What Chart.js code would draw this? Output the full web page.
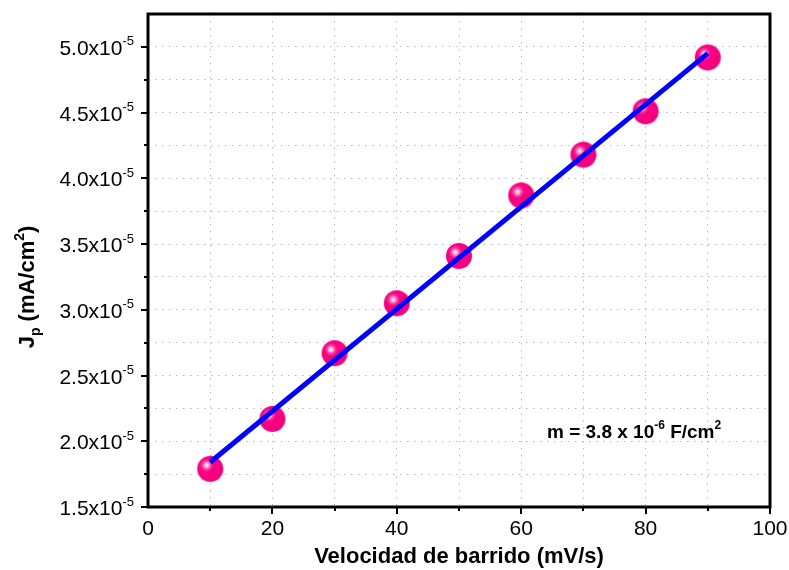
<!DOCTYPE html>
<html>
<head>
<meta charset="utf-8">
<script src="https://cdn.jsdelivr.net/npm/chart.js@4.4.1/dist/chart.umd.min.js"></script>
<style>
  html, body { margin: 0; padding: 0; background: #fff; }
  #wrap { width: 789px; height: 570px; position: relative; }
</style>
</head>
<body>
<div id="wrap"><canvas id="jp-chart"></canvas></div>
<script>
// scan rate (mV/s) and peak current density (mA/cm2)
const velocity = [10, 20, 30, 40, 50, 60, 70, 80, 90];
const jpValues = [1.79e-5, 2.17e-5, 2.67e-5, 3.05e-5, 3.41e-5, 3.87e-5, 4.18e-5, 4.51e-5, 4.92e-5];

// linear fit drawn through the points
const fitX = [10, 90];
const fitY = [1.84e-5, 4.95e-5];

const yLabelValues = [1.5, 2.0, 2.5, 3.0, 3.5, 4.0, 4.5, 5.0];
const xLabelValues = [0, 20, 40, 60, 80, 100];

const FONT = "'Liberation Sans', Arial, Helvetica, sans-serif";

// shaded sphere used as point marker
function makeSphere(r) {
    const c = document.createElement('canvas');
    c.width = c.height = r * 2 + 2;
    const g = c.getContext('2d');
    const cx = r + 1, cy = r + 1;
    const hx = cx - r * 0.28, hy = cy - r * 0.28;
    const grad = g.createRadialGradient(hx, hy, 0, hx, hy, r * 1.3);
    grad.addColorStop(0, '#ffffff');
    grad.addColorStop(0.08, '#ffd0e8');
    grad.addColorStop(0.25, '#ff3d9f');
    grad.addColorStop(0.4, '#fa0083');
    grad.addColorStop(1, '#f3007c');
    g.fillStyle = grad;
    g.beginPath();
    g.arc(cx, cy, r, 0, Math.PI * 2);
    g.fill();
    return c;
}

// text with superscripts / subscripts: parts = [[text, 'n'|'sup'|'sub'], ...]
function richWidth(ctx, parts, size, weight) {
    let w = 0;
    parts.forEach(([t, k]) => {
        ctx.font = `${weight} ${k === 'n' ? size : Math.round(size * 0.62)}px ${FONT}`;
        w += ctx.measureText(t).width;
    });
    return w;
}

function drawRich(ctx, parts, x, y, size, weight) {
    let cx = x;
    parts.forEach(([t, k]) => {
        const s = k === 'n' ? size : Math.round(size * 0.62);
        ctx.font = `${weight} ${s}px ${FONT}`;
        let dy = 0;
        if (k === 'sup') dy = -size * 0.45;
        if (k === 'sub') dy = size * 0.28;
        ctx.fillText(t, cx, y + dy);
        cx += ctx.measureText(t).width;
    });
}

const framePlugin = {
    id: 'frame',
    afterDraw(chart) {
        const { ctx, chartArea: a, scales: { x, y } } = chart;
        ctx.save();
        ctx.strokeStyle = '#000';

        // tick marks, outward on left and bottom
        ctx.lineWidth = 2;
        ctx.beginPath();
        for (let v = 10; v <= 100; v += 10) {
            const px = Math.round(x.getPixelForValue(v));
            const len = v % 20 === 0 ? 7 : 4;
            ctx.moveTo(px, a.bottom);
            ctx.lineTo(px, a.bottom + len);
        }
        for (let i = 0; i < 15; i++) {
            const v = 1.5e-5 + i * 0.25e-5;
            const py = Math.round(y.getPixelForValue(v));
            const len = i % 2 === 0 ? 7 : 4;
            ctx.moveTo(a.left, py);
            ctx.lineTo(a.left - len, py);
        }
        ctx.stroke();

        // box
        ctx.lineWidth = 3;
        ctx.strokeRect(a.left, a.top, a.right - a.left, a.bottom - a.top);

        // y tick labels a.bx10^-5
        ctx.fillStyle = '#000';
        ctx.textBaseline = 'alphabetic';
        yLabelValues.forEach(v => {
            const parts = [[v.toFixed(1) + 'x10', 'n'], ['-5', 'sup']];
            const w = richWidth(ctx, parts, 21, 'normal');
            const py = y.getPixelForValue(v * 1e-5);
            drawRich(ctx, parts, 134 - w, py + 8, 21, 'normal');
        });

        // y axis title
        ctx.save();
        ctx.translate(34, 287);
        ctx.rotate(-Math.PI / 2);
        const tParts = [['J', 'n'], ['p', 'sub'], [' (mA/cm', 'n'], ['2', 'sup'], [')', 'n']];
        const tw = richWidth(ctx, tParts, 22, 'bold');
        drawRich(ctx, tParts, -tw / 2, 0, 22, 'bold');
        ctx.restore();

        // slope annotation
        const mParts = [['m = 3.8 x 10', 'n'], ['-6', 'sup'], [' F/cm', 'n'], ['2', 'sup']];
        drawRich(ctx, mParts, 547, 438, 19, 'bold');

        ctx.restore();
    }
};

const sphere = makeSphere(13);

new Chart(document.getElementById('jp-chart'), {
    type: 'scatter',
    data: {
        datasets: [
            {
                label: 'fit',
                type: 'line',
                data: fitX.map((v, i) => ({ x: v, y: fitY[i] })),
                borderColor: 'rgb(0, 0, 255)',
                borderWidth: 5,
                borderCapStyle: 'butt',
                pointRadius: 0,
                fill: false,
                order: 0
            },
            {
                label: 'Jp',
                data: velocity.map((v, i) => ({ x: v, y: jpValues[i] })),
                pointStyle: sphere,
                pointRadius: 13,
                order: 1
            }
        ]
    },
    plugins: [framePlugin],
    options: {
        responsive: true,
        maintainAspectRatio: false,
        animation: false,
        devicePixelRatio: 1,
        layout: { padding: { top: 13, right: 19, left: 0, bottom: 0 } },
        plugins: {
            legend: { display: false },
            tooltip: { enabled: false }
        },
        scales: {
            x: {
                type: 'linear',
                min: 0,
                max: 100,
                afterFit: s => { s.height = 63; s.paddingLeft = 0; s.paddingRight = 0; },
                ticks: {
                    stepSize: 10,
                    color: '#000',
                    padding: 10,
                    maxRotation: 0,
                    font: { family: FONT, size: 21 },
                    callback: v => (xLabelValues.includes(v) ? String(v) : '')
                },
                grid: {
                    color: 'rgb(185, 185, 185)',
                    lineWidth: 1,
                    drawTicks: false
                },
                border: { display: false, dash: [1.5, 5.5] },
                title: {
                    display: true,
                    text: 'Velocidad de barrido (mV/s)',
                    color: '#000',
                    font: { family: FONT, size: 22, weight: 'bold' },
                    padding: { top: 0, bottom: 0 }
                }
            },
            y: {
                type: 'linear',
                min: 1.5e-5,
                max: 5.25e-5,
                afterFit: s => { s.width = 148; s.paddingTop = 0; s.paddingBottom = 0; },
                ticks: { stepSize: 0.25e-5, display: false },
                grid: {
                    color: 'rgb(185, 185, 185)',
                    lineWidth: 1,
                    drawTicks: false
                },
                border: { display: false, dash: [1.5, 5.5] }
            }
        }
    }
});
</script>
</body>
</html>
